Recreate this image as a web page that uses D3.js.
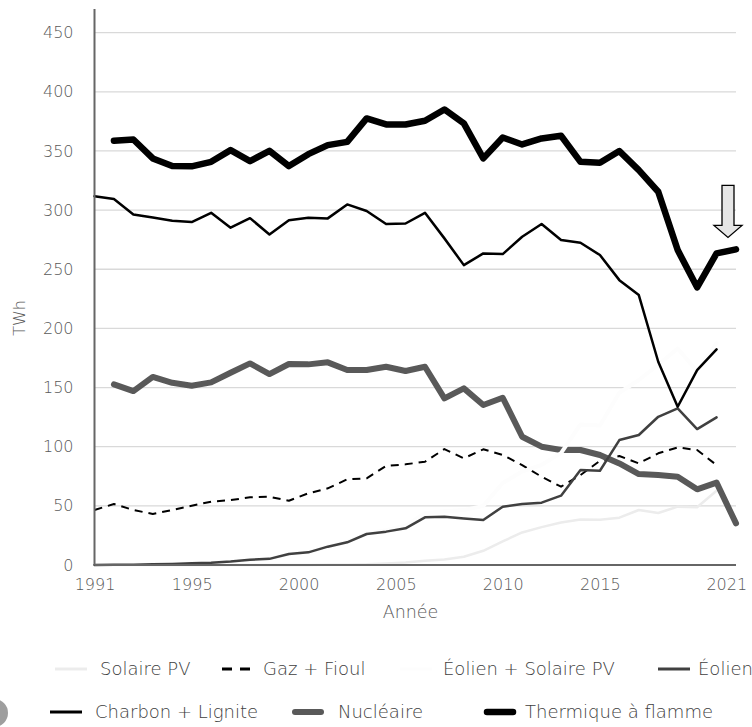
<!DOCTYPE html>
<html>
<head>
<meta charset="utf-8">
<script src="https://cdn.jsdelivr.net/npm/d3@7"></script>
<style>
  body { margin: 0; background: #fff; }
  text { font-family: "DejaVu Sans", sans-serif; font-weight: 200; fill: #595959; }
</style>
</head>
<body>
<svg id="chart" width="752" height="727"></svg>
<script>
// years on the drawing axis (one point per year)
const years = [1990, 1991, 1992, 1993, 1994, 1995, 1996, 1997, 1998, 1999,
               2000, 2001, 2002, 2003, 2004, 2005, 2006, 2007, 2008, 2009,
               2010, 2011, 2012, 2013, 2014, 2015, 2016, 2017, 2018, 2019,
               2020, 2021, 2022, 2023];

// TWh
const solaire = [0, 0, 0, 0, 0, 0, 0, 0, 0, 0,
                 0.1, 0.1, 0.2, 0.3, 0.6, 1.3, 2.2, 3.5, 4.6, 7,
                 12, 20, 27.5, 32, 36, 38.5, 38.3, 40, 46.5, 44,
                 49.3, 48.8, 62.7, null];
const gaz = [46.5, 51.5, 46.5, 43.1, 46.5, 50.1, 53.5, 54.9, 57.2, 57.7,
             54.3, 60.6, 64.8, 72.4, 73.3, 83.7, 85.1, 87.3, 98, 90.2,
             97.8, 93, 84.5, 74.6, 66.2, 76, 88.1, 92.1, 85.9, 94.4,
             99.4, 97.2, 84.5, null];
const eolienSolaire = [0.1, 0.2, 0.3, 0.6, 0.9, 1.5, 2, 3, 4.5, 5.2,
                       9.4, 10.8, 15.7, 19.5, 26.8, 29.5, 33.2, 43.8, 45.4, 46.4,
                       50, 69.3, 79, 84.7, 94.6, 118.8, 118, 145.6, 156.4, 169.3,
                       183, 163.7, 187.5, null];
const eolien = [0.1, 0.2, 0.3, 0.6, 0.9, 1.5, 2, 3, 4.5, 5.2,
                9.3, 10.7, 15.5, 19.2, 26.2, 28.2, 31, 40.3, 40.8, 39.4,
                38, 49.3, 51.5, 52.7, 58.6, 80.3, 79.7, 105.6, 109.9, 125.3,
                132.4, 114.9, 124.8, null];
const charbon = [311.8, 309.3, 296.3, 293.8, 291, 289.9, 297.7, 285.1, 293.2, 279.4,
                 291.5, 293.5, 293, 304.8, 299.2, 288.2, 288.7, 297.7, 276.1, 253.5,
                 263.4, 262.8, 277.5, 288.2, 274.7, 272.4, 262, 240.8, 228.2, 171.8,
                 133.8, 164.8, 182.3, null];
const nucleaire = [null, 152.7, 147, 159, 154, 151.5, 154.4, 162.5, 170.4, 161.4,
                   169.9, 169.6, 171.3, 164.8, 164.8, 167.6, 164, 167.6, 140.9, 149.3,
                   135.2, 141.4, 108.4, 100, 97.2, 97.2, 93, 85.9, 76.9, 76,
                   74.6, 64, 69.6, 35.2];
const thermique = [null, 358.6, 359.7, 343.7, 337.2, 337, 340.8, 350.7, 341.4, 350.1,
                   337.2, 347.3, 354.9, 357.7, 377.5, 372.4, 372.4, 375.5, 385.1, 373.3,
                   343.7, 361.4, 355.5, 360.6, 362.8, 340.8, 340, 349.9, 333.8, 315.5,
                   266.2, 234.7, 263.4, 266.8];

// x labels of the original sit unevenly along the axis
const xTickYears = [1990, 1995, 2000.5, 2005.5, 2011, 2016, 2022.5];
const xTickLabels = ["1991", "1995", "2000", "2005", "2010", "2015", "2021"];
const yTicks = [0, 50, 100, 150, 200, 250, 300, 350, 400, 450];

// drawing order (the near-white line cuts through nuclear and gas)
const series = [
  {name: "Solaire PV", values: solaire, color: "#ececec", width: 2.5},
  {name: "Gaz + Fioul", values: gaz, color: "#000", width: 2, dash: "8,6"},
  {name: "Nucléaire", values: nucleaire, color: "#595959", width: 6},
  {name: "Éolien + Solaire PV", values: eolienSolaire, color: "#fdfdfd", width: 4},
  {name: "Éolien", values: eolien, color: "#404040", width: 2.5},
  {name: "Charbon + Lignite", values: charbon, color: "#000", width: 2.5},
  {name: "Thermique à flamme", values: thermique, color: "#000", width: 6.5}
];

const svg = d3.select("#chart"),
      margin = {top: 9, right: 16, bottom: 162, left: 94.5},
      width = +svg.attr("width") - margin.left - margin.right,
      height = +svg.attr("height") - margin.top - margin.bottom;

const g = svg.append("g").attr("transform", `translate(${margin.left},${margin.top})`);

const x = d3.scaleLinear().domain([1990, 2023]).range([0, width]);
const y = d3.scaleLinear().domain([0, 470]).range([height, 0]);

// grid
g.append("g")
  .selectAll("line")
  .data(yTicks.filter(d => d > 0))
  .join("line")
  .attr("x1", 0)
  .attr("x2", width)
  .attr("y1", d => y(d))
  .attr("y2", d => y(d))
  .attr("stroke", "#d9d9d9")
  .attr("stroke-width", 1.3);

// axes
const yAxis = g.append("g")
  .call(d3.axisLeft(y).tickValues(yTicks).tickSize(0).tickPadding(21));
yAxis.select(".domain").remove();
yAxis.selectAll("text").style("font-size", "16px").attr("fill", "#595959");

const xAxis = g.append("g")
  .attr("transform", `translate(0,${height})`)
  .call(d3.axisBottom(x).tickValues(xTickYears).tickFormat((d, i) => xTickLabels[i]).tickSize(0).tickPadding(14));
xAxis.select(".domain").remove();
xAxis.selectAll("text").style("font-size", "16px").attr("fill", "#595959");

const line = d3.line()
  .defined(d => d != null)
  .x((d, i) => x(years[i]))
  .y(d => y(d));

series.forEach(s => {
  g.append("path")
    .datum(s.values)
    .attr("fill", "none")
    .attr("stroke", s.color)
    .attr("stroke-width", s.width)
    .attr("stroke-dasharray", s.dash || null)
    .attr("stroke-linecap", s.dash ? "butt" : "round")
    .attr("stroke-linejoin", "round")
    .attr("d", line);
});

// axis lines on top
g.append("line")
  .attr("x1", 0).attr("x2", 0)
  .attr("y1", 0).attr("y2", height)
  .attr("stroke", "#666").attr("stroke-width", 2);
g.append("line")
  .attr("x1", 0).attr("x2", width)
  .attr("y1", height).attr("y2", height)
  .attr("stroke", "#666").attr("stroke-width", 2);

// axis titles
g.append("text")
  .attr("x", 316)
  .attr("y", height + 53)
  .attr("text-anchor", "middle")
  .style("font-size", "17.5px")
  .text("Année");

g.append("text")
  .attr("transform", "rotate(-90)")
  .attr("x", -309)
  .attr("y", -70)
  .attr("text-anchor", "middle")
  .style("font-size", "16px")
  .text("TWh");

// annotation arrow pointing at the last "Thermique" point
const lastX = x(years[years.length - 1]) - 8,
      tipY = y(thermique[thermique.length - 1]) - 12;
g.append("path")
  .attr("d", `M${lastX - 6},${tipY - 52} L${lastX + 6},${tipY - 52} L${lastX + 6},${tipY - 12}
              L${lastX + 14},${tipY - 12} L${lastX},${tipY} L${lastX - 14},${tipY - 12}
              L${lastX - 6},${tipY - 12} Z`)
  .attr("fill", "#e6e6e6")
  .attr("stroke", "#000")
  .attr("stroke-width", 1.3);

// legend: sample start, text start, row
const legendLayout = [
  {name: "Solaire PV", x: 55, tx: 100, y: 669},
  {name: "Gaz + Fioul", x: 222, tx: 263, y: 669},
  {name: "Éolien + Solaire PV", x: 400, tx: 443, y: 669},
  {name: "Éolien", x: 658, tx: 698, y: 669},
  {name: "Charbon + Lignite", x: 50, tx: 95, y: 712},
  {name: "Nucléaire", x: 292, tx: 338, y: 712},
  {name: "Thermique à flamme", x: 484, tx: 525, y: 712}
];

const legend = svg.append("g");
legendLayout.forEach(l => {
  const s = series.find(d => d.name === l.name);
  const thick = s.width > 5;
  const item = legend.append("g").attr("transform", `translate(${l.x},${l.y})`);
  item.append("line")
    .attr("x1", thick ? 3 : 0).attr("x2", thick ? 29 : 32)
    .attr("y1", 0).attr("y2", 0)
    .attr("stroke", s.color)
    .attr("stroke-width", thick ? s.width : 3)
    .attr("stroke-dasharray", s.dash ? "10,8" : null)
    .attr("stroke-linecap", thick ? "round" : "butt");
  item.append("text")
    .attr("x", l.tx - l.x)
    .attr("dy", "0.35em")
    .style("font-size", "18px")
    .attr("fill", "#404040")
    .style("fill", "#404040")
    .text(s.name);
});

// partial marker cut by the left edge
svg.append("circle")
  .attr("cx", -6).attr("cy", 713).attr("r", 14)
  .attr("fill", "#9e9e9e");
</script>
</body>
</html>
